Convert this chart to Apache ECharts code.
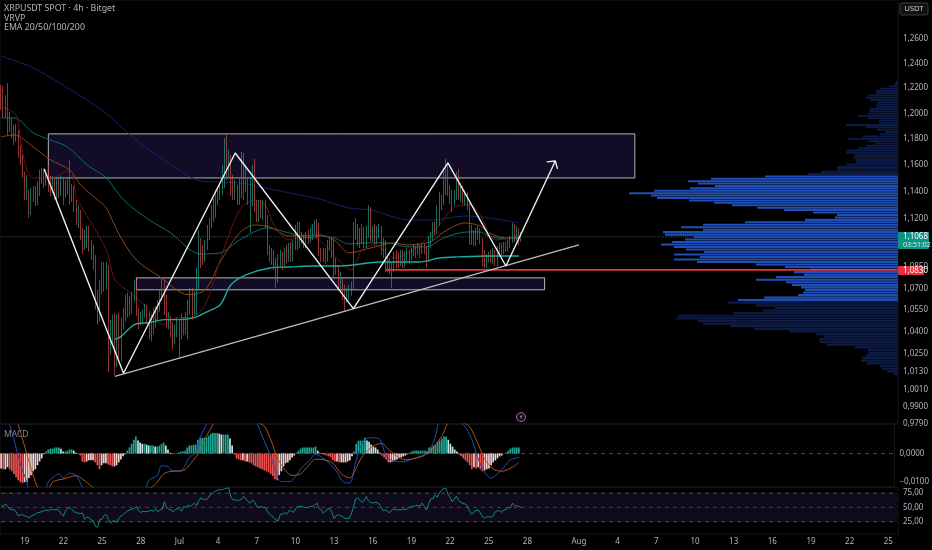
<!DOCTYPE html>
<html><head><meta charset="utf-8">
<style>html,body{margin:0;padding:0;background:#000}#c{width:932px;height:550px}</style>
<script src="https://cdn.jsdelivr.net/npm/echarts@6/dist/echarts.min.js"></script></head>
<body><div id="c"></div>
<script>
const firstOpen = 1.2202;
const closes = [1.2106,1.2027,1.2130,1.1887,1.1949,1.1871,1.1793,1.1848,1.1716,1.1655,1.1564,1.1376,1.1473,1.1264,1.1353,1.1413,1.1338,1.1398,1.1503,1.1549,1.1473,1.1526,1.1488,1.1413,1.1466,1.1376,1.1451,1.1398,1.1488,1.1376,1.1428,1.1473,1.1353,1.1413,1.1279,1.1176,1.1227,1.1082,1.0987,1.1060,1.1118,1.1009,1.0937,1.0887,1.0621,1.0483,1.0690,1.0844,1.0725,1.0816,1.0315,1.0348,1.0449,1.0181,1.0470,1.0228,1.0449,1.0517,1.0586,1.0621,1.0552,1.0635,1.0746,1.0552,1.0470,1.0497,1.0524,1.0579,1.0483,1.0402,1.0449,1.0538,1.0497,1.0586,1.0649,1.0746,1.0586,1.0470,1.0497,1.0429,1.0348,1.0402,1.0449,1.0382,1.0483,1.0416,1.0497,1.0586,1.0690,1.0538,1.0621,1.0830,1.1045,1.0973,1.0915,1.1009,1.1103,1.1176,1.1264,1.1227,1.1338,1.1376,1.1413,1.1526,1.1755,1.1602,1.1625,1.1413,1.1376,1.1428,1.1353,1.1413,1.1678,1.1549,1.1451,1.1376,1.1451,1.1579,1.1301,1.1227,1.1301,1.1249,1.1301,1.1190,1.0973,1.0915,1.0959,1.0866,1.0725,1.0887,1.0937,1.0866,1.0959,1.0915,1.0987,1.0915,1.1009,1.1060,1.1132,1.1045,1.1060,1.1024,1.1074,1.1045,1.1089,1.1132,1.1176,1.1103,1.0959,1.0915,1.0959,1.0901,1.1009,1.1031,1.0959,1.0816,1.0866,1.0725,1.0760,1.0656,1.0621,1.0656,1.0670,1.0711,1.1103,1.1176,1.1031,1.1082,1.1132,1.1009,1.1103,1.1249,1.1060,1.1103,1.1045,1.1103,1.1132,1.0959,1.1009,1.0844,1.0887,1.0830,1.0844,1.0930,1.0915,1.0901,1.0944,1.0887,1.0930,1.0959,1.0915,1.0959,1.0987,1.0959,1.0987,1.0959,1.1002,1.0973,1.0901,1.1024,1.1060,1.1147,1.1103,1.1264,1.1353,1.1301,1.1549,1.1579,1.1413,1.1361,1.1301,1.1376,1.1518,1.1361,1.1413,1.1338,1.1376,1.1301,1.1045,1.1103,1.1024,1.1074,1.1118,1.1045,1.0915,1.0866,1.0915,1.0937,1.0894,1.0944,1.0873,1.0973,1.1009,1.0959,1.1002,1.0973,1.1009,1.1045,1.1147,1.1060,1.1118,1.1045,1.1068];
const highs = [1.2226,1.2218,1.2146,1.2242,1.2011,1.1965,1.1910,1.1918,1.1871,1.1755,1.1678,1.1549,1.1526,1.1413,1.1428,1.1443,1.1443,1.1473,1.1564,1.1579,1.1564,1.1564,1.1602,1.1518,1.1518,1.1503,1.1503,1.1503,1.1518,1.1503,1.1488,1.1503,1.1640,1.1458,1.1443,1.1338,1.1301,1.1264,1.1132,1.1118,1.1147,1.1147,1.1045,1.1009,1.0937,1.0690,1.0760,1.0887,1.0887,1.0887,1.0866,1.0483,1.0517,1.0531,1.0517,1.0531,1.0497,1.0566,1.0656,1.0670,1.0649,1.0676,1.0760,1.0760,1.0566,1.0538,1.0552,1.0593,1.0586,1.0538,1.0517,1.0566,1.0579,1.0621,1.0690,1.0774,1.0760,1.0656,1.0538,1.0510,1.0470,1.0449,1.0497,1.0483,1.0524,1.0497,1.0538,1.0621,1.0704,1.0704,1.0676,1.0844,1.1118,1.1060,1.1009,1.1045,1.1154,1.1205,1.1301,1.1353,1.1413,1.1428,1.1458,1.1602,1.1809,1.1832,1.1716,1.1678,1.1526,1.1488,1.1451,1.1503,1.1701,1.1693,1.1602,1.1503,1.1503,1.1602,1.1648,1.1338,1.1338,1.1338,1.1338,1.1338,1.1227,1.1009,1.0987,1.0973,1.0915,1.0937,1.0973,1.0959,1.0987,1.1009,1.1024,1.1031,1.1045,1.1154,1.1176,1.1176,1.1103,1.1082,1.1103,1.1118,1.1132,1.1161,1.1190,1.1198,1.1169,1.0987,1.0987,1.0987,1.1045,1.1060,1.1060,1.1045,1.0915,1.0866,1.0816,1.0774,1.0725,1.0704,1.0725,1.0746,1.1176,1.1205,1.1161,1.1132,1.1161,1.1140,1.1147,1.1301,1.1286,1.1147,1.1161,1.1147,1.1161,1.1147,1.1060,1.1045,1.0930,1.0915,1.0887,1.0959,1.0973,1.0959,1.0973,1.0973,1.0959,1.0987,1.0973,1.0987,1.1016,1.1002,1.1024,1.1009,1.1024,1.1016,1.1002,1.1074,1.1103,1.1176,1.1176,1.1301,1.1398,1.1376,1.1579,1.1648,1.1625,1.1451,1.1413,1.1413,1.1549,1.1572,1.1466,1.1443,1.1413,1.1398,1.1316,1.1154,1.1118,1.1132,1.1147,1.1132,1.1060,1.0973,1.0944,1.0959,1.0973,1.0987,1.0973,1.1002,1.1024,1.1024,1.1031,1.1031,1.1045,1.1074,1.1169,1.1161,1.1147,1.1132,1.1103];
const lows = [1.2027,1.1965,1.1965,1.1832,1.1855,1.1809,1.1755,1.1778,1.1655,1.1602,1.1503,1.1338,1.1338,1.1205,1.1227,1.1323,1.1294,1.1301,1.1368,1.1458,1.1428,1.1443,1.1398,1.1368,1.1391,1.1338,1.1338,1.1353,1.1368,1.1301,1.1353,1.1376,1.1301,1.1323,1.1249,1.1154,1.1132,1.1045,1.0944,1.0973,1.0987,1.0959,1.0901,1.0830,1.0552,1.0449,1.0470,1.0656,1.0676,1.0690,1.0128,1.0248,1.0315,1.0108,1.0161,1.0201,1.0201,1.0416,1.0470,1.0497,1.0510,1.0524,1.0607,1.0510,1.0416,1.0443,1.0449,1.0497,1.0449,1.0348,1.0335,1.0382,1.0429,1.0470,1.0538,1.0621,1.0517,1.0429,1.0416,1.0362,1.0281,1.0315,1.0362,1.0228,1.0348,1.0375,1.0382,1.0348,1.0517,1.0483,1.0510,1.0517,1.0690,1.0844,1.0866,1.0887,1.0973,1.1045,1.1132,1.1176,1.1205,1.1301,1.1338,1.1376,1.1428,1.1488,1.1503,1.1368,1.1338,1.1338,1.1301,1.1301,1.1353,1.1338,1.1398,1.1301,1.1096,1.1294,1.1249,1.1176,1.1176,1.1205,1.1190,1.1132,1.0937,1.0887,1.0866,1.0830,1.0704,1.0739,1.0844,1.0830,1.0844,1.0880,1.0887,1.0887,1.0887,1.0973,1.0973,1.0987,1.1016,1.0987,1.0987,1.1016,1.1024,1.1045,1.1082,1.1060,1.0930,1.0887,1.0887,1.0873,1.0887,1.0973,1.0915,1.0774,1.0795,1.0683,1.0676,1.0621,1.0545,1.0600,1.0621,1.0649,1.0690,1.1045,1.1002,1.0987,1.1016,1.0987,1.0987,1.1060,1.1031,1.1031,1.1009,1.1016,1.1060,1.0937,1.0915,1.0816,1.0816,1.0802,1.0704,1.0816,1.0844,1.0844,1.0858,1.0844,1.0844,1.0887,1.0873,1.0901,1.0930,1.0915,1.0937,1.0915,1.0944,1.0944,1.0844,1.0887,1.0987,1.1045,1.1074,1.1089,1.1147,1.1264,1.1301,1.1376,1.1368,1.1308,1.1249,1.1294,1.1338,1.1338,1.1323,1.1308,1.1294,1.1264,1.1009,1.1009,1.1002,1.1002,1.1045,1.1016,1.0858,1.0844,1.0844,1.0887,1.0880,1.0873,1.0858,1.0858,1.0944,1.0937,1.0944,1.0959,1.0959,1.0987,1.1024,1.1031,1.1045,1.1009,1.1031];

const ema200 = [[0,1.2460],[15,1.2363],[34,1.2170],[49,1.2],[60,1.1832],[69,1.1716],[79,1.1602],[91,1.1488],[100,1.1473],[111,1.1466],[123,1.1428],[139,1.1376],[148,1.1346],[162,1.1279],[172,1.1264],[190,1.1190],[200,1.1190],[216,1.1220],[227,1.1205],[241,1.1169]];
const ema100 = [[0,1.1965],[6,1.1965],[15,1.1848],[23,1.1793],[31,1.1739],[40,1.1602],[49,1.1503],[57,1.1338],[69,1.1190],[79,1.1096],[88,1.0973],[93,1.0944],[102,1.0952],[111,1.1045],[124,1.1132],[134,1.1096],[144,1.1060],[148,1.1074],[155,1.1060],[162,1.1016],[170,1.1024],[180,1.1024],[189,1.0995],[198,1.0995],[206,1.1060],[217,1.1103],[223,1.1103],[227,1.1074],[235,1.1053],[241,1.1060]];
const ema50 = [[0,1.1817],[6,1.1832],[15,1.1739],[23,1.1640],[32,1.1564],[37,1.1451],[45,1.1338],[49,1.1279],[55,1.1082],[63,1.0901],[74,1.0781],[87,1.0656],[95,1.0690],[102,1.0887],[111,1.1096],[118,1.1154],[125,1.1140],[134,1.1074],[141,1.1074],[148,1.1082],[155,1.1045],[162,1.0952],[172,1.0987],[183,1.1024],[189,1.1009],[200,1.1031],[206,1.1103],[216,1.1169],[223,1.1147],[227,1.1096],[235,1.1060],[241,1.1060]];
const ema20 = [[0,1.2051],[7,1.1988],[9,1.1793],[12,1.1564],[15,1.1503],[23,1.1503],[32,1.1564],[35,1.1361],[37,1.1301],[49,1.0973],[53,1.0760],[60,1.0670],[68,1.0566],[75,1.0449],[82,1.0497],[88,1.0497],[95,1.0586],[102,1.0901],[111,1.1264],[118,1.1338],[123,1.1301],[127,1.1154],[134,1.1045],[141,1.1082],[148,1.1045],[158,1.0887],[163,1.0830],[168,1.0973],[174,1.1009],[183,1.0915],[195,1.1009],[204,1.1154],[211,1.1286],[218,1.1301],[223,1.1227],[230,1.1045],[237,1.1060],[241,1.1082]];
const emaBright = [[53,1.0348],[56,1.0369],[62,1.0449],[69,1.0463],[76,1.0483],[83,1.0483],[90,1.0497],[95,1.0531],[102,1.0586],[107,1.0725],[114,1.0795],[125,1.0844],[134,1.0851],[144,1.0858],[158,1.0858],[164,1.0866],[176,1.0887],[195,1.0887],[204,1.0915],[213,1.0923],[227,1.0930],[241,1.0930]];

const macdHist = [-.0052,-.0055,-.0055,-.0048,-.0055,-.0062,-.0072,-.0083,-.0093,-.0100,-.0103,-.0100,-.0100,-.0086,-.0076,-.0062,-.0055,-.0041,-.0028,-.0017,-.0003,.0007,.0014,.0017,.0017,.0021,.0021,.0021,.0017,.0007,.0007,.0010,.0014,.0014,.0010,.0003,-.0003,-.0007,-.0028,-.0031,-.0028,-.0024,-.0024,-.0024,-.0031,-.0041,-.0055,-.0041,-.0034,-.0034,-.0038,-.0041,-.0045,-.0045,-.0041,-.0031,-.0021,-.0010,-.0003,.0010,.0021,.0034,.0048,.0059,.0045,.0038,.0034,.0034,.0031,.0028,.0028,.0028,.0024,.0024,.0028,.0034,.0038,.0028,.0014,.0003,.0001,-.0003,.0001,.0003,.0007,.0007,.0010,.0021,.0028,.0028,.0031,.0031,.0048,.0055,.0055,.0055,.0055,.0062,.0069,.0072,.0072,.0072,.0069,.0066,.0066,.0066,.0066,.0052,.0028,-.0003,-.0017,-.0021,-.0024,-.0024,-.0028,-.0028,-.0031,-.0034,-.0041,-.0045,-.0048,-.0052,-.0055,-.0059,-.0062,-.0066,-.0072,-.0079,-.0090,-.0093,-.0076,-.0062,-.0045,-.0034,-.0031,-.0024,-.0014,-.0007,.0003,.0010,.0017,.0021,.0021,.0021,.0021,.0021,.0021,.0024,.0010,.0003,-.0003,-.0003,-.0007,-.0010,-.0014,-.0024,-.0028,-.0028,-.0031,-.0031,-.0031,-.0031,-.0028,-.0024,-.0010,.0007,.0034,.0045,.0045,.0045,.0055,.0045,.0041,.0031,.0024,.0021,.0014,.0003,-.0007,-.0014,-.0021,-.0031,-.0031,-.0028,-.0024,-.0021,-.0017,-.0014,-.0010,-.0007,-.0003,.0003,.0007,.0010,.0010,.0010,.0010,.0010,.0010,.0007,.0021,.0021,.0028,.0031,.0041,.0045,.0052,.0059,.0059,.0048,.0034,.0024,.0014,.0007,-.0003,-.0010,-.0017,-.0024,-.0031,-.0041,-.0055,-.0048,-.0052,-.0048,-.0055,-.0062,-.0059,-.0055,-.0052,-.0041,-.0031,-.0024,-.0017,-.0010,-.0007,.0001,.0003,.0010,.0017,.0021,.0021,.0021,.0021];
const macdLine = [[4,.0101],[6,.0049],[9,-.0037],[12,-.0100],[13,-.0145],[20,-.0145],[22,-.0100],[25,-.0079],[27,-.0071],[29,-.0086],[32,-.0069],[34,-.0071],[36,-.0086],[38,-.0117],[41,-.0145],[66,-.0145],[69,-.0094],[73,-.0077],[75,-.0043],[78,-.0046],[80,-.0060],[83,-.0060],[85,-.0054],[88,-.0014],[91,.0003],[93,.0055],[96,.0101],[100,.0150],[118,.0150],[120,.0101],[122,.0061],[126,-.0008],[129,-.0077],[131,-.0098],[135,-.0098],[138,-.0077],[140,-.0054],[144,-.0025],[147,-.0002],[150,-.0014],[153,-.0031],[157,-.0065],[160,-.0100],[163,-.0103],[165,-.0054],[167,.0003],[170,.0049],[174,.0055],[177,.0049],[180,-.0008],[183,-.0025],[188,-.0029],[193,-.0017],[198,-.0002],[202,.0038],[204,.0095],[205,.0150],[216,.0101],[220,.0049],[223,-.0019],[226,-.0065],[229,-.0086],[232,-.0071],[235,-.0048],[238,-.0022],[242,-.0014]];
const macdSignal = [[8,.0101],[11,.0026],[15,-.0077],[17,-.0117],[19,-.0146],[22,-.0129],[24,-.0100],[27,-.0092],[30,-.0088],[35,-.0077],[38,-.0089],[43,-.0119],[47,-.0146],[70,-.0119],[73,-.0100],[76,-.0071],[79,-.0063],[85,-.0060],[89,-.0031],[93,.0009],[96,.0061],[99,.0101],[102,.0141],[122,.0101],[126,.0049],[129,-.0014],[133,-.0060],[136,-.0077],[140,-.0071],[143,-.0048],[147,-.0020],[151,-.0022],[155,-.0033],[159,-.0071],[163,-.0085],[165,-.0066],[169,-.0008],[174,.0026],[178,.0035],[181,.0015],[186,-.0014],[189,-.0022],[194,-.0016],[198,-.0006],[202,.0021],[206,.0061],[210,.0112],[218,.0101],[222,.0049],[226,-.0019],[230,-.0054],[234,-.0062],[239,-.0048],[242,-.0031]];

const rsi = [54.1,51.8,56,51.8,47.1,45.9,45.9,42.4,35.3,37.1,37.1,35.3,34.1,31.8,35.3,36.5,38.2,41.2,41.2,42.9,44.1,45.9,44.1,46.5,45.9,45.9,47.1,44.1,38.2,35.3,44.1,48.2,50,45.9,42.4,40.6,40,39.4,40,29.4,33.5,32.4,28.2,26.5,16.5,15.9,29.4,29.4,36.5,37.1,29.4,22.4,26.5,26.5,23.5,32.4,35.3,38.2,41.2,44.1,45.9,47.1,48.2,51.8,44.1,41.2,43.5,42.4,42.9,44.1,44.7,43.5,47.1,42.4,45.9,47.1,60,50,47.1,45.9,42.4,45.9,48.2,47.1,43.5,51.8,50,54.1,51.8,54.1,57.6,52.9,61.8,66.5,64.7,63.5,64.7,70.6,73.5,76.5,78.8,80.6,81.2,81.2,82.3,83.5,84.1,67.6,62.9,63.5,61.8,62.9,64.7,69.4,64.7,60,57.6,62.9,60,51.8,50,51.8,50,50,42.4,38.2,35.3,32.4,28.2,26.5,38.2,38.2,41.2,38.2,44.1,44.1,41.2,47.1,51.8,51.8,51.8,50,50,50,51.8,51.8,54.1,57.6,48.2,45.9,40,44.1,47.1,48.2,41.2,30.6,35.3,37.1,35.3,34.1,30.6,30.6,31.2,38.2,50,64.7,66.5,62.9,58.8,61.8,69.4,61.8,58.8,57.6,58.8,58.8,55.9,50,44.1,45.9,42.4,41.2,45.9,47.1,45.9,45.9,45.9,47.1,45.9,48.2,50,51.8,51.8,52.9,54.1,51.8,57.6,51.8,45.3,55.9,64.7,64.7,71.8,67.6,75.3,79.4,83.5,83.5,73.5,67.6,60,64.7,69.4,61.8,58.8,57.6,55.9,52.9,44.1,38.2,41.2,44.1,45.9,41.2,34.1,31.8,33.5,34.1,32.4,35.3,42.4,44.1,44.1,41.2,45.9,45.9,50,48.8,57.6,52.9,52.9,51.8,50];

const vpTop = 1.2250, vpStep = 0.001794;
const vpBrightTop = 1.1525, vpBrightBottom = 1.0600;
const vpVols = [2,4,9,18,22,22,30,32,28,20,21,22,28,29,30,40,30,19,19,52,33,21,13,18,35,50,30,23,32,40,52,52,44,45,43,42,52,61,61,77,90,133,187,210,200,183,208,244,269,247,241,209,184,166,141,114,85,61,63,93,153,195,217,195,235,233,204,213,226,237,224,212,194,224,198,224,201,142,113,88,104,94,122,142,112,106,97,93,95,100,134,160,170,142,123,135,165,220,222,200,195,168,144,109,82,74,79,78,71,43,30,30,32,36,37,31,18,16,11,4];

const axisPrices = [1.26,1.24,1.22,1.2,1.18,1.16,1.14,1.12,1.085,1.07,1.055,1.04,1.025,1.013,1.001,0.99,0.979];
const priceMin = 0.979, priceMax = 1.2926;
const lastPrice = 1.1068, supportPrice = 1.0830;
const dateLabels = ['19','22','25','28','Jul','4','7','10','13','16','19','22','25','28','Aug','4','7','10','13','16','19','22','25'];
const labelSlots = [11,29,47,65,83,101,119,137,155,173,191,209,227,245,269,287,305,323,341,359,377,395,413];
const totalBars = 418;

const zones = [[22,295,1.1840,1.1503],[63,253,1.0774,1.0690]];
const zigzag = [[20,1.1572],[57,1.0121],[109,1.1693],[164,1.0559],[208,1.1617],[235,1.0858],[258,1.1632]];
const arrowHead = [[254,1.1625],[258,1.1632],[259,1.1572]];
const trendLine = [[53,1.0101],[269,1.1009]];
const supportLine = [[179,supportPrice],[417,supportPrice]];
const lastLine = [[0,lastPrice],[417,lastPrice]];

const font = '"Noto Sans", sans-serif';
const textCol = '#b2b5bd';
const cats = Array.from({length: totalBars}, (_, i) => { const k = labelSlots.indexOf(i); return k >= 0 ? dateLabels[k] : ''; });
const opens = closes.map((c, i) => i ? closes[i-1] : firstOpen);
const ohlc = closes.map((c, i) => [opens[i], c, lows[i], highs[i]]);

const grids = [
  {left:0, width:898, top:0, height:424, show:true, borderColor:'#181818', borderWidth:1},
  {left:0, width:898, top:424, height:63, show:true, borderColor:'#181818', borderWidth:1},
  {left:0, width:898, top:487, height:47, show:true, borderColor:'#181818', borderWidth:1},
  {left:0, width:898, top:0, height:424}
];
function catAxis(i, showLabels){
  return {type:'category', gridIndex:i, data:cats, boundaryGap:true, axisLine:{show:false}, axisTick:{show:false}, splitLine:{show:false},
    axisLabel: showLabels ? {show:true, interval:(idx)=>labelSlots.includes(idx), color:textCol, fontSize:8, fontFamily:font, margin:4, hideOverlap:false} : {show:false}};
}
const labelStyle = {color:textCol, fontSize:8, fontFamily:font, margin:5};
const yComma = d => v => v.toFixed(d).replace('.', ',').replace('-', '\u2212');

function rectItem(p, api){
  const a = api.coord([api.value(0), api.value(2)]);
  const b = api.coord([api.value(1), api.value(3)]);
  return {type:'rect', shape:{x:a[0], y:a[1], width:b[0]-a[0], height:b[1]-a[1]}, style:{fill:'#130c26', stroke:'#b4b4b4', lineWidth:1}};
}
function vpItem(p, api){
  const price = api.value(0), vol = api.value(1);
  const a = api.coord([vol, price + vpStep*0.42]);
  const b = api.coord([0, price - vpStep*0.42]);
  const bright = price <= vpBrightTop && price >= vpBrightBottom;
  return {type:'rect', shape:{x:a[0], y:a[1], width:b[0]-a[0], height:Math.max(1.2,b[1]-a[1])}, style:{fill: bright ? '#1f4fb6' : '#0c1b47'}};
}
const line = (data, color, width, z, extra) => Object.assign({type:'line', data, showSymbol:false, symbol:'none', silent:true, clip:true,
  lineStyle:{color, width}, z, animation:false, xAxisIndex:0, yAxisIndex:0}, extra || {});
const panel = (i, o) => Object.assign({xAxisIndex:i, yAxisIndex:i}, o);

const option = {
  backgroundColor:'#000', animation:false, grid:grids,
  xAxis:[catAxis(0,false), catAxis(1,false), catAxis(2,true),
    {type:'value', gridIndex:3, min:0, max:898, inverse:true, show:false}],
  yAxis:[
    {type:'log', gridIndex:0, min:priceMin, max:priceMax, position:'right', axisLine:{show:false}, axisTick:{show:false}, splitLine:{show:false},
      axisLabel:Object.assign({customValues:axisPrices, formatter:yComma(4)}, labelStyle)},
    {type:'value', gridIndex:1, min:-0.0117, max:0.0103, position:'right', axisLine:{show:false}, axisTick:{show:false}, splitLine:{show:false},
      axisLabel:Object.assign({customValues:[0,-0.01], formatter:yComma(4)}, labelStyle)},
    {type:'value', gridIndex:2, min:3.6, max:85.7, position:'right', axisLine:{show:false}, axisTick:{show:false}, splitLine:{show:false},
      axisLabel:Object.assign({customValues:[25,50,75], formatter:yComma(2)}, labelStyle)},
    {type:'log', gridIndex:3, min:priceMin, max:priceMax, show:false}
  ],
  series:[
    {type:'custom', xAxisIndex:0, yAxisIndex:0, data:zones, renderItem:rectItem, z:1, silent:true, clip:true, encode:{x:[0,1], y:[2,3]}},
    {type:'custom', xAxisIndex:3, yAxisIndex:3, data:vpVols.map((v,i)=>[vpTop - i*vpStep, v]), renderItem:vpItem, z:2, silent:true, encode:{x:1, y:0}},
    line(lastLine,'#0d5f52',1,3,{lineStyle:{color:'#0d5f52',width:1,type:'dotted'}}),
    line(ema200,'#12246e',1,4,{smooth:0.3}),
    line(ema100,'#0e6a68',1,4,{smooth:0.3}),
    line(ema50,'#8a4716',1,4,{smooth:0.3}),
    line(ema20,'#6a1414',1,4,{smooth:0.3}),
    line(emaBright,'#1cab9d',1.4,4,{smooth:0.3}),
    {type:'candlestick', xAxisIndex:0, yAxisIndex:0, data:ohlc, barWidth:1.3, z:5, silent:true,
      itemStyle:{color:'#1e9c88', color0:'#cf4c4a', borderColor:'#1e9c88', borderColor0:'#cf4c4a', borderWidth:0.7}},
    line(supportLine,'#e8323c',1.8,6),
    line(trendLine,'#bdbdbd',1.3,7),
    line(zigzag,'#efefef',1.4,8),
    line(arrowHead,'#efefef',1.4,8),
    panel(1,{type:'line', data:[[0,0],[417,0]], symbol:'none', silent:true, z:1, lineStyle:{color:'#4a4a4a', width:1, type:[4,4]}}),
    panel(1,{type:'bar', data:macdHist.map((v,i)=>{
        const prev = i ? macdHist[i-1] : v;
        const col = v >= 0 ? (v >= prev ? '#1fa593' : '#c9e6e2') : (v < prev ? '#ef5350' : '#f7cfd0');
        return {value:v, itemStyle:{color:col}};
      }), barWidth:1.7, z:2, silent:true}),
    panel(1,{type:'line', data:macdLine, symbol:'none', silent:true, clip:true, z:3, smooth:0.3, lineStyle:{color:'#1e4fb4', width:1}}),
    panel(1,{type:'line', data:macdSignal, symbol:'none', silent:true, clip:true, z:3, smooth:0.3, lineStyle:{color:'#b0541a', width:1}}),
    panel(2,{type:'line', data:[[0,75],[417,75]], symbol:'none', silent:true, z:2, lineStyle:{color:'#555', width:1, type:[4,4]},
      markArea:{silent:true, itemStyle:{color:'#100b1c'}, data:[[{xAxis:0,yAxis:75},{xAxis:417,yAxis:25}]]}}),
    panel(2,{type:'line', data:[[0,50],[417,50]], symbol:'none', silent:true, z:2, lineStyle:{color:'#444', width:1, type:[4,4]}}),
    panel(2,{type:'line', data:[[0,25],[417,25]], symbol:'none', silent:true, z:2, lineStyle:{color:'#555', width:1, type:[4,4]}}),
    panel(2,{type:'line', data:rsi, symbol:'none', silent:true, z:3, lineStyle:{color:'#128a80', width:1}})
  ],
  graphic:[
    {type:'text', left:4, top:4, style:{text:'XRPUSDT SPOT \u00b7 4h \u00b7 Bitget', fill:textCol, font:'8.8px '+font}},
    {type:'text', left:4, top:14, style:{text:'VRVP', fill:textCol, font:'8.8px '+font}},
    {type:'text', left:4, top:23, style:{text:'EMA 20/50/100/200', fill:textCol, font:'8.8px '+font}},
    {type:'text', left:4, top:430, style:{text:'MACD', fill:'#85888f', font:'8.5px '+font}},
    {type:'text', left:4, top:493, style:{text:'RSI', fill:'#85888f', font:'8.5px '+font}},
    {type:'rect', shape:{x:900,y:3,width:28,height:12,r:2}, style:{fill:'#111', stroke:'#3c3c3c', lineWidth:1}},
    {type:'text', x:914, y:9, style:{text:'USDT', fill:'#d0d0d0', font:'7.5px '+font, textAlign:'center', textVerticalAlign:'middle'}},
    {type:'rect', shape:{x:898,y:232,width:31,height:17,r:1}, style:{fill:'#0d9486'}, z:10},
    {type:'text', x:903, y:237, z:11, style:{text:'1,1068', fill:'#fff', font:'8px '+font, textVerticalAlign:'middle'}},
    {type:'text', x:903, y:245, z:11, style:{text:'03:51:02', fill:'#d8f0ec', font:'7px '+font, textVerticalAlign:'middle'}},
    {type:'rect', shape:{x:898,y:266,width:26,height:9,r:1}, style:{fill:'#e2323f'}, z:10},
    {type:'text', x:903, y:270.5, z:11, style:{text:'1,0830', fill:'#fff', font:'8px '+font, textVerticalAlign:'middle'}},
    {type:'circle', shape:{cx:521,cy:417,r:4.5}, style:{fill:'#1a0d1a', stroke:'#a868a8', lineWidth:1}},
    {type:'text', x:521, y:417, style:{text:'\u26a1', fill:'#d0a0d0', font:'6px "DejaVu Sans"', textAlign:'center', textVerticalAlign:'middle'}}
  ]
};
echarts.init(document.getElementById('c'), null, {renderer:'canvas'}).setOption(option);
</script></body></html>
